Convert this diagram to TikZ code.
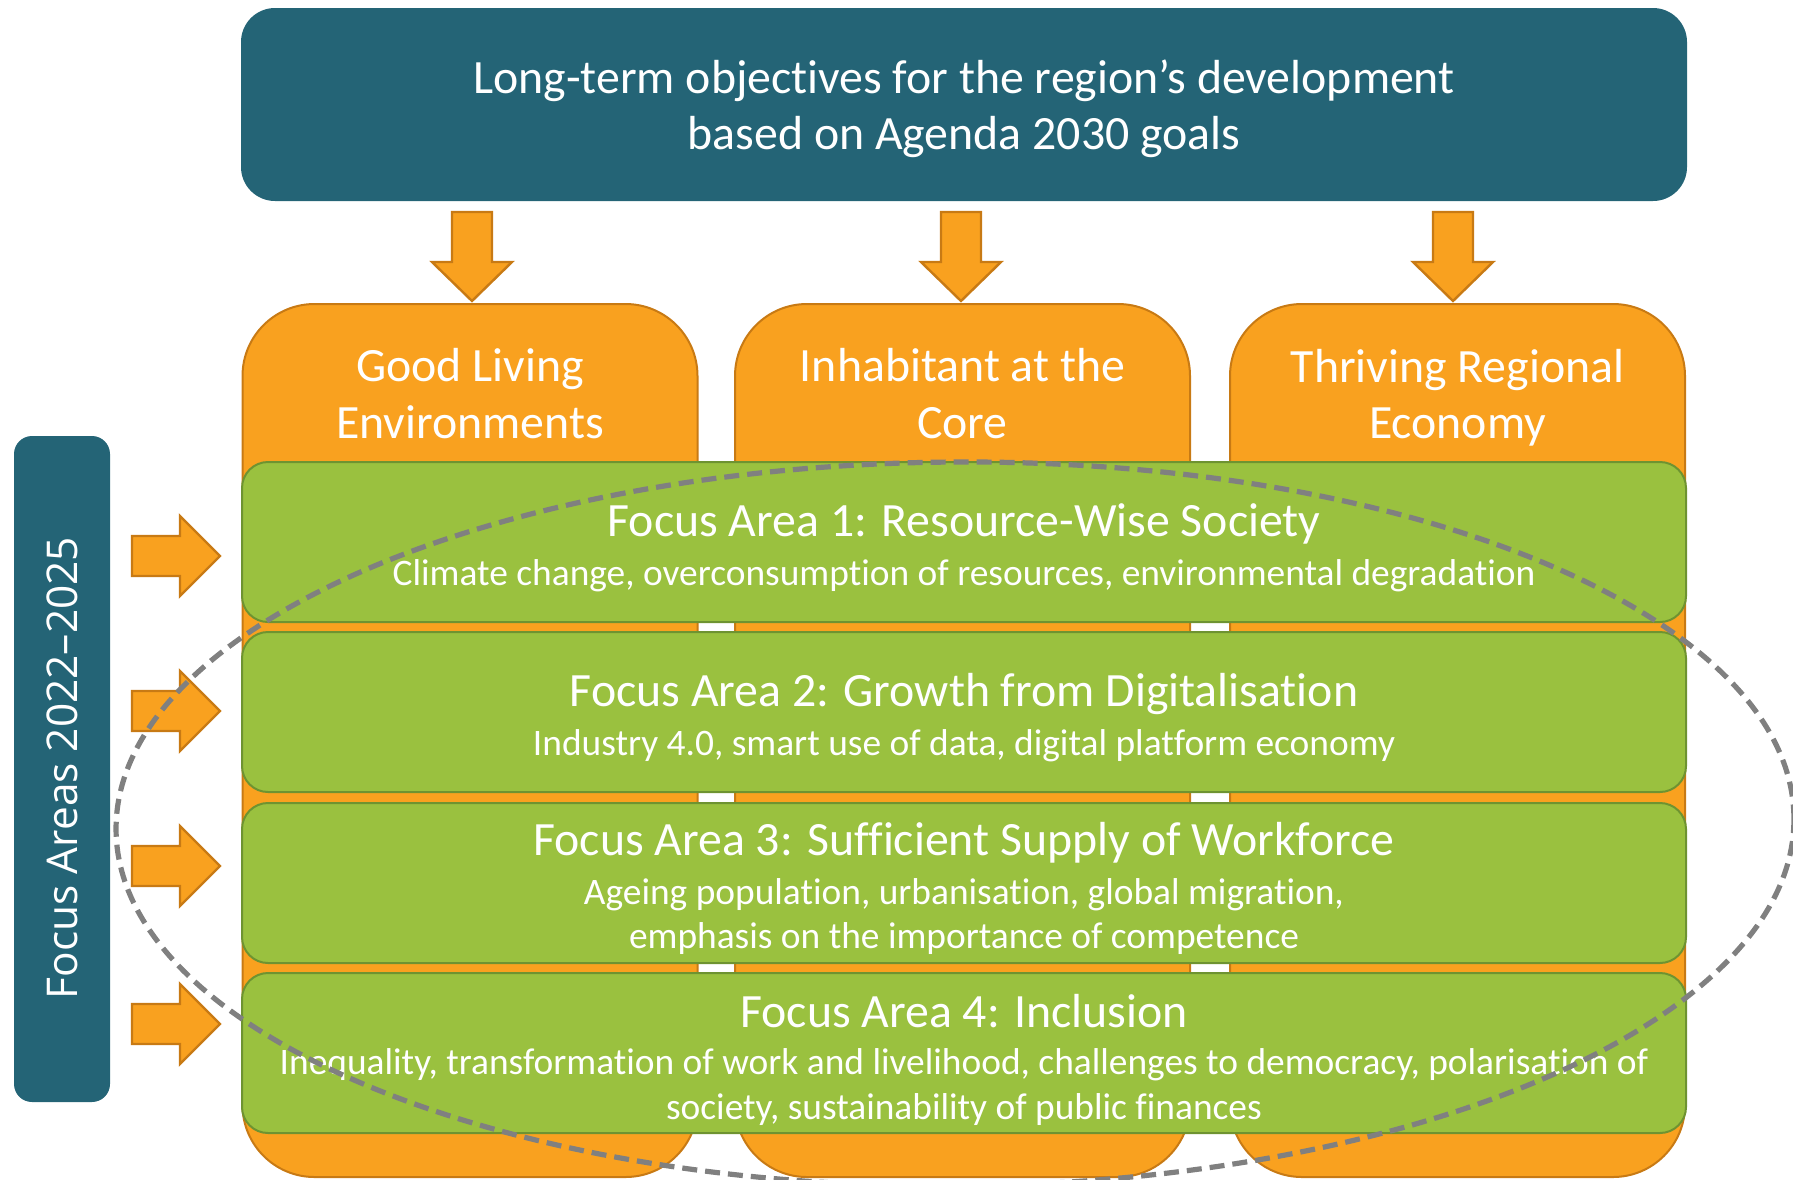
\documentclass[tikz,border=0pt]{standalone}
\usepackage{fontspec}
\setmainfont{Carlito}[Ligatures=NoCommon]
\newfontfamily\osans{Open Sans}
\usetikzlibrary{calc}
\definecolor{myteal}{RGB}{36,100,118}
\definecolor{myorange}{RGB}{249,161,31}
\definecolor{myorangedk}{RGB}{200,122,20}
\definecolor{mygreen}{RGB}{154,193,63}
\definecolor{mygreendk}{RGB}{110,147,49}
\definecolor{mydash}{RGB}{128,128,128}
\tikzset{
  topbox/.style={fill=myteal, draw=none, rounded corners=17pt, minimum width=723pt, minimum height=96.5pt, inner sep=0pt},
  colbox/.style={fill=myorange, draw=myorangedk, line width=1pt, rounded corners=36pt, minimum width=227.5pt, minimum height=436.5pt, inner sep=0pt},
  focusbar/.style={fill=mygreen, draw=mygreendk, line width=1pt, rounded corners=13pt, minimum width=722pt, minimum height=80pt, inner sep=0pt},
  sidebox/.style={fill=myteal, draw=none, rounded corners=9pt, minimum width=48pt, minimum height=333pt, inner sep=0pt},
  bigtext/.style={text=white, align=center, font=\fontsize{23.9}{28.2}\selectfont, inner sep=0pt},
  subtext/.style={text=white, align=center, font=\fontsize{18.7}{22.2}\selectfont, inner sep=0pt},
  blockarrow/.style={fill=myorange, draw=myorangedk, line width=1.2pt, line join=miter},
  downarrow/.pic={\draw[blockarrow] (-20,0) -- (20,0) -- (20,50) -- (40,50) -- (0,89) -- (-40,50) -- (-20,50) -- cycle;},
  rightarrow/.pic={\draw[blockarrow] (0,-20) -- (48,-20) -- (48,-40) -- (88,0) -- (48,40) -- (48,20) -- (0,20) -- cycle;},
  ellipsedash/.style={draw=mydash, line width=2.6pt, dash pattern=on 7.5pt off 4pt}
}
\begin{document}
\begin{tikzpicture}[x=0.5pt,y=-0.5pt]
\useasboundingbox (0,0) rectangle (1793,1179);
% top objectives box
\node[topbox] (top) at (964,104.5) {};
\node[bigtext] (toptext) at (964,108.5) {Long-term objectives for the region’s development\\based on Agenda 2030 goals};
% down arrows
\pic at (472,212) {downarrow};
\pic at (961,212) {downarrow};
\pic at (1453,212) {downarrow};
% columns
\node[colbox] (c1) at (470,740.5) {};
\node[colbox] (c2) at (962.5,740.5) {};
\node[colbox] (c3) at (1457.5,740.5) {};
\node[bigtext] (t1) at (470,393.5) {Good Living\\Environments};
\node[bigtext] (t2) at (962.5,393.5) {Inhabitant at the\\Core};
\node[bigtext] (t3) at (1457.5,397.5) {Thriving Regional\\Economy};
% focus bars
\node[focusbar] (f1) at (964,542) {};
\node[focusbar] (f2) at (964,712) {};
\node[focusbar] (f3) at (964,883) {};
\node[focusbar] (f4) at (964,1053) {};
\node[bigtext] (f1t) at (964,523.5) {Focus Area 1: Resource-Wise Society};
\node[subtext] (f1s) at (964,575.5) {Climate change, overconsumption of resources, environmental degradation};
\node[bigtext] (f2t) at (964,694.5) {Focus Area 2: Growth from Digitalisation};
\node[subtext] (f2s) at (964,745.5) {Industry 4.0, smart use of data, digital platform economy};
\node[bigtext] (f3t) at (964,842.5) {Focus Area 3: Sufficient Supply of Workforce};
\node[subtext] (f3s) at (964,916.5) {Ageing population, urbanisation, global migration,\\emphasis on the importance of competence};
\node[bigtext] (f4t) at (964,1011.5) {Focus Area 4: Inclusion};
\node[subtext] (f4s) at (964,1087) {Inequality, transformation of work and livelihood, challenges to democracy, polarisation of\\society, sustainability of public finances};
% side label
\node[sidebox] (fa) at (62,769) {};
\node[text=white, rotate=90, font=\osans\fontsize{21.2}{25}\selectfont, inner sep=0pt] (fatext) at ($(fa.center)+(0,-1)$) {Focus Areas 2022–2025};
% right arrows
\pic at (132,556) {rightarrow};
\pic at (132,711) {rightarrow};
\pic at (132,866) {rightarrow};
\pic at (132,1024) {rightarrow};
% dashed ellipse
\begin{scope}
\clip (0,0) rectangle (1793,1179);
\draw[ellipsedash, rotate around={0.4:(955,824)}] (955,824) ellipse [x radius=839, y radius=362];
\end{scope}
\end{tikzpicture}
\end{document}
